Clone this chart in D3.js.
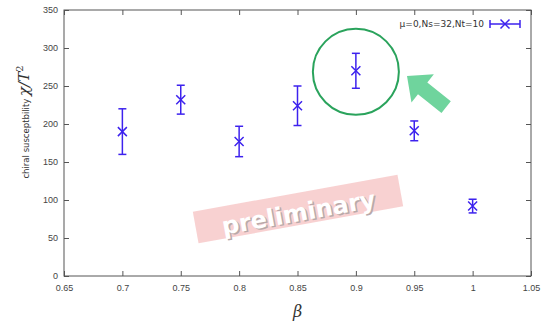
<!DOCTYPE html>
<html>
<head>
<meta charset="utf-8">
<script src="https://cdn.jsdelivr.net/npm/d3@7"></script>
<style>
  body { margin: 0; background: #fff; }
  svg { display: block; font-family: "DejaVu Sans", Verdana, sans-serif; }
</style>
</head>
<body>
<div id="chartDiv"></div>
<script>
// data
var betas = [0.7, 0.75, 0.8, 0.85, 0.9, 0.95, 1.0]
var chi = [190, 232, 177, 224, 270, 191, 92]
var chiErr = [30, 19, 20, 26, 23, 13, 9]
var xTicks = [0.65, 0.7, 0.75, 0.8, 0.85, 0.9, 0.95, 1, 1.05]
var yTicks = [0, 50, 100, 150, 200, 250, 300, 350]
var legendLabel = "μ=0,Ns=32,Nt=10"

var width = 549, height = 325
var margin = {top: 10, right: 18, bottom: 49, left: 64}
var blue = "#3d22ee"
var axisColor = "#555"

var svg = d3.select("#chartDiv").append("svg")
    .attr("width", width)
    .attr("height", height)

var x = d3.scaleLinear().domain([0.65, 1.05]).range([margin.left, width - margin.right])
var y = d3.scaleLinear().domain([0, 350]).range([height - margin.bottom, margin.top])

var points = betas.map(function(b, i) {
    return {beta: b, value: chi[i], err: chiErr[i]}
})

// axes, ticks pointing inwards on all four sides
function styleAxis(g) {
    g.select(".domain").remove()
    g.selectAll(".tick line").attr("stroke", axisColor).attr("stroke-width", 1)
    g.selectAll(".tick text").attr("fill", "#444").style("font-size", "9px")
}

svg.append("g")
    .attr("transform", "translate(0," + y(0) + ")")
    .call(d3.axisBottom(x).tickValues(xTicks).tickFormat(d3.format("")).tickSizeInner(-5).tickSizeOuter(0).tickPadding(9))
    .call(styleAxis)

svg.append("g")
    .attr("transform", "translate(0," + y(350) + ")")
    .call(d3.axisTop(x).tickValues(xTicks).tickFormat("").tickSizeInner(-5).tickSizeOuter(0))
    .call(styleAxis)

svg.append("g")
    .attr("transform", "translate(" + x(0.65) + ",0)")
    .call(d3.axisLeft(y).tickValues(yTicks).tickSizeInner(-5).tickSizeOuter(0).tickPadding(6))
    .call(styleAxis)

svg.append("g")
    .attr("transform", "translate(" + x(1.05) + ",0)")
    .call(d3.axisRight(y).tickValues(yTicks).tickFormat("").tickSizeInner(-5).tickSizeOuter(0))
    .call(styleAxis)

svg.append("rect")
    .attr("x", x(0.65))
    .attr("y", y(350))
    .attr("width", x(1.05) - x(0.65))
    .attr("height", y(0) - y(350))
    .attr("fill", "none")
    .attr("stroke", axisColor)
    .attr("stroke-width", 1)

// "preliminary" banner
var banner = svg.append("g")
    .attr("transform", "translate(298,209) rotate(-10.3)")
banner.append("rect")
    .attr("x", -104).attr("y", -16)
    .attr("width", 208).attr("height", 32)
    .attr("fill", "#f7cccc")
    .attr("opacity", 0.9)
banner.append("text")
    .attr("x", 1.5).attr("y", 13.5)
    .attr("text-anchor", "middle")
    .style("font-size", "24px").style("font-weight", "bold")
    .attr("fill", "#b9a9a9")
    .text("preliminary")
banner.append("text")
    .attr("x", 0).attr("y", 12)
    .attr("text-anchor", "middle")
    .style("font-size", "24px").style("font-weight", "bold")
    .attr("fill", "#ffffff")
    .text("preliminary")

// error bars and x markers
var cap = 4, mk = 4.5
var marks = svg.append("g")
    .attr("stroke", blue)
    .attr("stroke-width", 1.5)
    .attr("fill", "none")
    .selectAll("g")
    .data(points)
    .enter().append("g")

marks.append("line")
    .attr("x1", function(d) {return x(d.beta)})
    .attr("x2", function(d) {return x(d.beta)})
    .attr("y1", function(d) {return y(d.value + d.err)})
    .attr("y2", function(d) {return y(d.value - d.err)})
marks.append("line")
    .attr("x1", function(d) {return x(d.beta) - cap})
    .attr("x2", function(d) {return x(d.beta) + cap})
    .attr("y1", function(d) {return y(d.value + d.err)})
    .attr("y2", function(d) {return y(d.value + d.err)})
marks.append("line")
    .attr("x1", function(d) {return x(d.beta) - cap})
    .attr("x2", function(d) {return x(d.beta) + cap})
    .attr("y1", function(d) {return y(d.value - d.err)})
    .attr("y2", function(d) {return y(d.value - d.err)})
marks.append("path")
    .attr("d", function(d) {
        var cx = x(d.beta), cy = y(d.value)
        return "M" + (cx - mk) + "," + (cy - mk) + "L" + (cx + mk) + "," + (cy + mk) +
               "M" + (cx - mk) + "," + (cy + mk) + "L" + (cx + mk) + "," + (cy - mk)
    })

// highlight circle around beta = 0.9
var hi = points[4]
svg.append("circle")
    .attr("cx", x(hi.beta))
    .attr("cy", y(hi.value) + 1)
    .attr("r", 43)
    .attr("fill", "none")
    .attr("stroke", "#2aa35c")
    .attr("stroke-width", 2)

// arrow pointing at the circle
var arrow = svg.append("g")
    .attr("transform", "translate(407,76) rotate(" + (Math.atan2(31, 39) * 180 / Math.PI) + ")")
arrow.append("path")
    .attr("d", "M0,0 L20,-18 L20,-7.5 L50,-7.5 L50,7.5 L20,7.5 L20,18 Z")
    .attr("fill", "#6fd49d")

// legend
var legY = 24
svg.append("text")
    .attr("x", 484)
    .attr("y", legY + 3)
    .attr("text-anchor", "end")
    .attr("fill", "#333")
    .style("font-size", "9px")
    .text(legendLabel)
var leg = svg.append("g").attr("stroke", blue).attr("stroke-width", 1.5).attr("fill", "none")
leg.append("line").attr("x1", 490).attr("x2", 520).attr("y1", legY).attr("y2", legY)
leg.append("line").attr("x1", 490).attr("x2", 490).attr("y1", legY - cap).attr("y2", legY + cap)
leg.append("line").attr("x1", 520).attr("x2", 520).attr("y1", legY - cap).attr("y2", legY + cap)
leg.append("path").attr("d", "M500.5," + (legY - mk) + "L509.5," + (legY + mk) + "M500.5," + (legY + mk) + "L509.5," + (legY - mk))

// axis titles
var yTitle = svg.append("text")
    .attr("transform", "translate(29,122) rotate(-90)")
    .attr("text-anchor", "middle")
    .attr("fill", "#333")
yTitle.append("tspan")
    .style("font-size", "8.5px")
    .text("chiral susceptbility ")
yTitle.append("tspan")
    .style("font-family", "'DejaVu Serif', serif").style("font-style", "italic").style("font-size", "15px")
    .text(" χ/T")
yTitle.append("tspan")
    .attr("dy", -6)
    .style("font-family", "'DejaVu Serif', serif").style("font-size", "10px")
    .text("2")

svg.append("text")
    .attr("x", x(0.85))
    .attr("y", 317)
    .attr("text-anchor", "middle")
    .attr("fill", "#333")
    .style("font-family", "'DejaVu Serif', serif").style("font-style", "italic").style("font-size", "16px")
    .text("β")
</script>
</body>
</html>
